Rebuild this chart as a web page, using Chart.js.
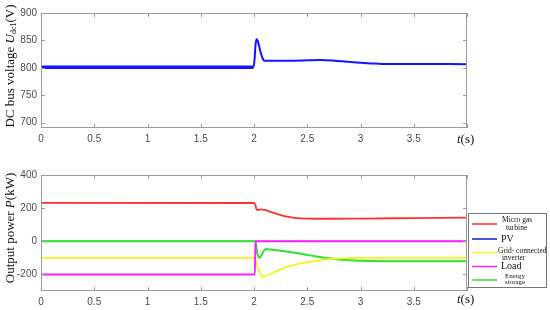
<!DOCTYPE html>
<html>
<head>
<meta charset="utf-8">
<script src="https://cdn.jsdelivr.net/npm/chart.js@4.4.1/dist/chart.umd.min.js"></script>
<style>
  html, body { margin: 0; padding: 0; background: #fff; }
  canvas { display: block; }
</style>
</head>
<body>
<canvas id="chartUdc" width="550" height="155"></canvas>
<canvas id="chartPower" width="550" height="155"></canvas>
<script>
/* ---------- data ---------- */
// DC bus voltage (V)
const tDc = [0, 1.995, 2.005, 2.015, 2.025, 2.035, 2.05, 2.07, 2.09, 2.1, 2.3, 2.5, 2.62, 2.75, 2.85, 3.0, 3.1, 3.2, 3.5, 4.0];
const uDc = [801, 801, 815, 843, 852, 849, 838, 823, 814, 813, 813, 813.5, 814, 813, 811.5, 809, 808, 807, 807, 806.5];

// output power (kW)
const tMgt = [0, 2.0, 2.015, 2.025, 2.045, 2.07, 2.1, 2.15, 2.2, 2.25, 2.3, 2.35, 2.4, 2.5, 2.7, 3.0, 3.5, 4.0];
const pMgt = [232, 231, 215, 190, 189, 193, 189, 179, 168, 158, 150, 144, 140, 137, 136, 137, 140, 143];
const tPv = [0, 4.0];
const pPv = [0, 0];
const tInv = [0, 2.005, 2.03, 2.06, 2.085, 2.12, 2.2, 2.3, 2.4, 2.5, 2.6, 2.7, 2.8, 2.9, 3.0, 4.0];
const pInv = [-100, -100, -150, -195, -215, -207, -183, -158, -140, -126, -116, -108, -103, -101, -100, -100];
const tLoad = [0, 2.008, 2.014, 4.0];
const pLoad = [-200, -200, 0, 0];
const tEs = [0, 2.012, 2.03, 2.05, 2.08, 2.11, 2.16, 2.25, 2.35, 2.5, 2.6, 2.7, 2.8, 2.9, 3.0, 3.2, 4.0];
const pEs = [0, 0, -70, -100, -72, -47, -50, -57, -66, -82, -93, -103, -110, -115, -118, -120, -120];

// ticks
const tTicks = [0, 0.5, 1, 1.5, 2, 2.5, 3, 3.5, 4];
const uTicks = [700, 750, 800, 850, 900];
const pTicks = [-200, 0, 200, 400];

const legendLabels = [["Micro gas", "turbine"], ["PV"], ["Grid- connected", "inverter"], ["Load"], ["Energy", "storage"]];

const pts = (xs, ys) => xs.map((x, i) => ({ x, y: ys[i] }));

/* ---------- plugins ---------- */
const SERIF = "'Liberation Serif', 'Times New Roman', serif";

function drawParts(ctx, parts, x, y, align) {
  let w = 0;
  parts.forEach(p => { ctx.font = p.font; w += ctx.measureText(p.text).width; });
  let cx = align === "center" ? x - w / 2 : x;
  parts.forEach(p => {
    ctx.font = p.font;
    ctx.fillText(p.text, cx, y + (p.dy || 0));
    cx += ctx.measureText(p.text).width;
  });
}

// MATLAB-like box with inward ticks on all four sides
const boxTicks = {
  id: "boxTicks",
  afterDraw(chart) {
    const { ctx, chartArea: a, scales: { x, y } } = chart;
    ctx.save();
    ctx.strokeStyle = "#9c9c9c";
    ctx.lineWidth = 1;
    ctx.strokeRect(a.left + 0.5, a.top + 0.5, a.right - a.left - 1, a.bottom - a.top - 1);
    ctx.beginPath();
    x.ticks.forEach(t => {
      const px = Math.round(x.getPixelForValue(t.value)) + 0.5;
      ctx.moveTo(px, a.bottom); ctx.lineTo(px, a.bottom - 4);
      ctx.moveTo(px, a.top); ctx.lineTo(px, a.top + 4);
    });
    y.ticks.forEach(t => {
      const py = Math.round(y.getPixelForValue(t.value)) + 0.5;
      ctx.moveTo(a.left, py); ctx.lineTo(a.left + 4, py);
      ctx.moveTo(a.right, py); ctx.lineTo(a.right - 4, py);
    });
    ctx.stroke();
    ctx.restore();
  }
};

// rotated y title + t(s) label
const titles = {
  id: "titles",
  afterDraw(chart, args, o) {
    const ctx = chart.ctx;
    ctx.save();
    ctx.fillStyle = "#111";
    ctx.textBaseline = "middle";
    ctx.translate(o.yx, o.yy);
    ctx.rotate(-Math.PI / 2);
    drawParts(ctx, o.yParts, 0, 0, "center");
    ctx.restore();
    ctx.save();
    ctx.fillStyle = "#111";
    ctx.textBaseline = "middle";
    drawParts(ctx, [
      { text: "t", font: "italic 13px " + SERIF },
      { text: "(s)", font: "13px " + SERIF }
    ], o.tx, o.ty, "left");
    ctx.restore();
  }
};

// boxed legend on the right of the power plot
const sideLegend = {
  id: "sideLegend",
  afterDraw(chart) {
    const ctx = chart.ctx;
    const L = 468.5, T = 58.5, W = 78, H = 74;
    const rows = [
      { y: 69, tx: 502, lines: [[65, 7.5], [73.5, 7.5]] },
      { y: 84, tx: 501, lines: [[84, 10]] },
      { y: 97.5, tx: 498, lines: [[96.5, 7.5], [103, 7.5]] },
      { y: 111.5, tx: 501, lines: [[111.5, 10]] },
      { y: 125, tx: 505, lines: [[121.5, 7], [127.5, 7]] }
    ];
    const ds = chart.data.datasets;
    ctx.save();
    ctx.fillStyle = "#fff";
    ctx.fillRect(L, T, W, H);
    ctx.strokeStyle = "#777";
    ctx.lineWidth = 1;
    ctx.strokeRect(L, T, W, H);
    ctx.textBaseline = "middle";
    ctx.fillStyle = "#111";
    rows.forEach((r, i) => {
      ctx.strokeStyle = ds[i].borderColor;
      ctx.lineWidth = 1.5;
      ctx.beginPath(); ctx.moveTo(472, r.y); ctx.lineTo(497, r.y); ctx.stroke();
      legendLabels[i].forEach((txt, k) => {
        ctx.font = r.lines[k][1] + "px " + SERIF;
        ctx.fillText(txt, r.tx + (k > 0 && i !== 4 ? 4 : 0), r.lines[k][0]);
      });
    });
    ctx.restore();
  }
};

/* ---------- shared axis options ---------- */
const tickFont = { family: "'Liberation Sans', Arial, sans-serif", size: 10 };
function xAxis(h) {
  return {
    type: "linear", min: 0, max: 4,
    afterBuildTicks: s => { s.ticks = tTicks.map(v => ({ value: v })); },
    afterFit: s => { s.height = h; },
    grid: { display: false, drawTicks: false }, border: { display: false },
    ticks: { padding: 5, font: tickFont, color: "#4a4a4a", maxRotation: 0, autoSkip: false,
      callback: v => v === 4 ? "" : String(v) }
  };
}
function yAxis(min, max, list) {
  return {
    min, max,
    afterBuildTicks: s => { s.ticks = list.map(v => ({ value: v })); },
    afterFit: s => { s.width = 41; },
    grid: { display: false, drawTicks: false }, border: { display: false },
    ticks: { padding: 4, font: tickFont, color: "#4a4a4a" }
  };
}
const common = { responsive: false, animation: false, events: [] };

/* ---------- DC bus voltage ---------- */
new Chart(document.getElementById("chartUdc"), {
  type: "line",
  data: { datasets: [{
    data: pts(tDc, uDc), borderColor: "#1414ff", pointRadius: 0, borderWidth: 2,
    cubicInterpolationMode: "monotone",
    segment: { borderWidth: c => c.p0.parsed.x < 1.99 ? 3.5 : 2 }
  }] },
  options: {
    ...common,
    layout: { padding: { top: 13, right: 83, left: 0, bottom: 0 } },
    plugins: {
      legend: { display: false }, tooltip: { enabled: false },
      titles: {
        yx: 11, yy: 66, tx: 457, ty: 140,
        yParts: [
          { text: "DC bus voltage ", font: "13px " + SERIF },
          { text: "U", font: "italic 13px " + SERIF },
          { text: "dc1", font: "8px " + SERIF, dy: 3 },
          { text: "(V)", font: "13px " + SERIF }
        ]
      }
    },
    scales: { x: xAxis(27), y: yAxis(690, 900, uTicks) }
  },
  plugins: [boxTicks, titles]
});

/* ---------- Output power ---------- */
const line = (data, color, order, w) => ({
  data, borderColor: color, backgroundColor: color, pointRadius: 0, borderWidth: w,
  cubicInterpolationMode: "monotone", order
});
new Chart(document.getElementById("chartPower"), {
  type: "line",
  data: { datasets: [
    line(pts(tMgt, pMgt), "#ff3030", 1, 1.8),
    line(pts(tPv, pPv), "#1a1ad0", 10, 1),
    line(pts(tInv, pInv), "#f4f41c", 3, 1.8),
    line(pts(tLoad, pLoad), "#ff22ff", 2, 2),
    line(pts(tEs, pEs), "#2fe02f", 4, 2)
  ] },
  options: {
    ...common,
    layout: { padding: { top: 20, right: 83, left: 0, bottom: 0 } },
    plugins: {
      legend: { display: false }, tooltip: { enabled: false },
      titles: {
        yx: 11, yy: 73, tx: 457, ty: 145,
        yParts: [
          { text: "Output power ", font: "13px " + SERIF },
          { text: "P", font: "italic 13px " + SERIF },
          { text: "(kW)", font: "13px " + SERIF }
        ]
      }
    },
    scales: { x: xAxis(19), y: yAxis(-300, 400, pTicks) }
  },
  plugins: [boxTicks, titles, sideLegend]
});
</script>
</body>
</html>
